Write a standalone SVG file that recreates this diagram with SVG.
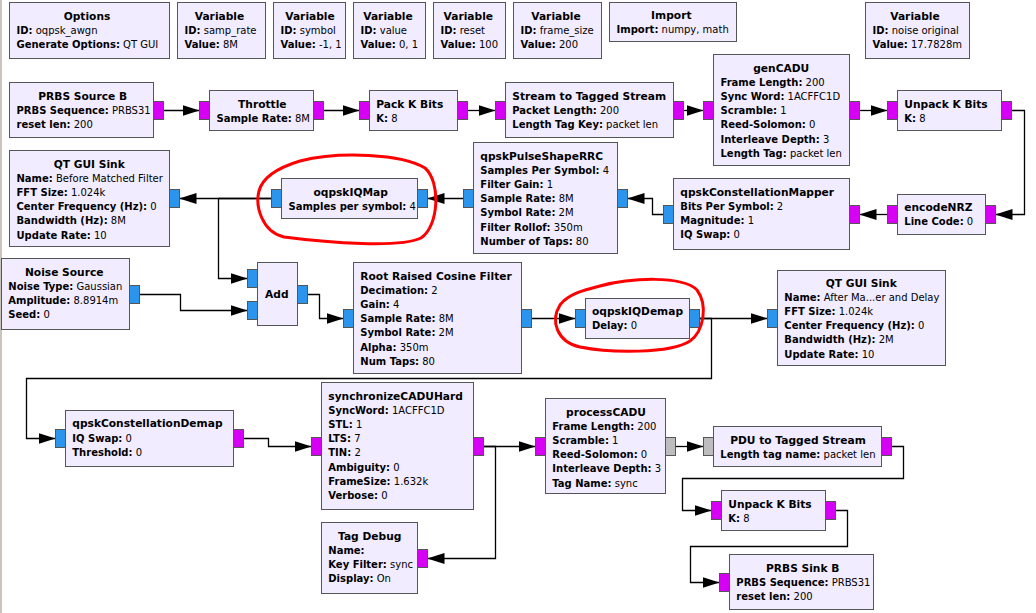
<svg xmlns="http://www.w3.org/2000/svg" width="1036" height="613" viewBox="0 0 1036 613">
<style>
text{font-family:"DejaVu Sans","Liberation Sans",sans-serif;fill:#000}
.t{font-size:10.67px;font-weight:bold}
.tc{font-size:10.67px;font-weight:bold;text-anchor:middle}
.p{font-size:10px}
.k{font-weight:bold}
.box{fill:#F1ECFF;stroke:#555;stroke-width:1}
.pm{fill:#D600F5;stroke:#555;stroke-width:1}
.pb{fill:#2B95EE;stroke:#555;stroke-width:1}
.pg{fill:#BDBDBD;stroke:#555;stroke-width:1}
.c{fill:none;stroke:#000;stroke-width:1.3;marker-end:url(#ah)}
.red{fill:none;stroke:#F00;stroke-width:3;stroke-linejoin:round}
</style>
<defs>
<marker id="ah" markerUnits="userSpaceOnUse" markerWidth="17" markerHeight="11" refX="17" refY="5.5" orient="auto">
<path d="M0,0 L17,5.5 L0,11 Z" fill="#000"/>
</marker>
</defs>
<rect x="0" y="0" width="1036" height="613" fill="#FFFFFF"/>
<rect x="0" y="0" width="2" height="613" fill="#C9C5BD"/>

<g id="connectors">
<path class="c" d="M163.5,110.5 H199.5"/>
<path class="c" d="M323.5,110.5 H359.5"/>
<path class="c" d="M467.5,110.5 H495.5"/>
<path class="c" d="M683.5,110.5 H703.5"/>
<path class="c" d="M859.5,110.5 H887.5"/>
<path class="c" d="M1011.5,110.5 H1024.5 V214.5 H995.5"/>
<path class="c" d="M887.5,214.5 H859.5"/>
<path class="c" d="M663.5,214.5 H652.5 V198.5 H627.5"/>
<path class="c" d="M463.5,198.5 H427.5"/>
<path class="c" d="M271.5,198.5 H179.5"/>
<path class="c" d="M271.5,198.5 H218.5 V278.5 H247.5"/>
<path class="c" d="M139.5,294.5 H180.5 V310.5 H247.5"/>
<path class="c" d="M307.5,294.5 H319.5 V318.5 H343.5"/>
<path class="c" d="M531.5,318.5 H575.5"/>
<path class="c" d="M699.5,318.5 H767.5"/>
<path class="c" d="M699.5,318.5 H711.5 V378.5 H26.5 V438.5 H55.5"/>
<path class="c" d="M243.5,438.5 H268.5 V446.5 H311.5"/>
<path class="c" d="M483.5,446.5 H535.5"/>
<path class="c" d="M483.5,446.5 H495.5 V558.5 H427.5"/>
<path class="c" d="M675.5,446.5 H703.5"/>
<path class="c" d="M891.5,446.5 H903.5 V478.5 H682.5 V510.5 H711.5"/>
<path class="c" d="M835.5,510.5 H847.5 V546.5 H690.5 V582.5 H719.5"/>
</g>

<g id="options">
<rect class="box" x="9.5" y="2.5" width="160" height="56"/>
<text class="tc" x="87" y="19.5">Options</text>
<text class="p" x="16.5" y="33.7"><tspan class="k">ID:</tspan> oqpsk_awgn</text>
<text class="p" x="16.5" y="47.9"><tspan class="k">Generate Options:</tspan> QT GUI</text>
</g>
<g id="var_samp_rate">
<rect class="box" x="177.5" y="2.5" width="88" height="56"/>
<text class="tc" x="219.5" y="19.5">Variable</text>
<text class="p" x="184.5" y="33.7"><tspan class="k">ID:</tspan> samp_rate</text>
<text class="p" x="184.5" y="47.9"><tspan class="k">Value:</tspan> 8M</text>
</g>
<g id="var_symbol">
<rect class="box" x="273.5" y="2.5" width="72" height="56"/>
<text class="tc" x="310" y="19.5">Variable</text>
<text class="p" x="280.5" y="33.7"><tspan class="k">ID:</tspan> symbol</text>
<text class="p" x="280.5" y="47.9"><tspan class="k">Value:</tspan> -1, 1</text>
</g>
<g id="var_value">
<rect class="box" x="353.5" y="2.5" width="72" height="56"/>
<text class="tc" x="388" y="19.5">Variable</text>
<text class="p" x="360.5" y="33.7"><tspan class="k">ID:</tspan> value</text>
<text class="p" x="360.5" y="47.9"><tspan class="k">Value:</tspan> 0, 1</text>
</g>
<g id="var_reset">
<rect class="box" x="433.5" y="2.5" width="72" height="56"/>
<text class="tc" x="468.3" y="19.5">Variable</text>
<text class="p" x="440.5" y="33.7"><tspan class="k">ID:</tspan> reset</text>
<text class="p" x="440.5" y="47.9"><tspan class="k">Value:</tspan> 100</text>
</g>
<g id="var_frame_size">
<rect class="box" x="513.5" y="2.5" width="88" height="56"/>
<text class="tc" x="556" y="19.5">Variable</text>
<text class="p" x="520.5" y="33.7"><tspan class="k">ID:</tspan> frame_size</text>
<text class="p" x="520.5" y="47.9"><tspan class="k">Value:</tspan> 200</text>
</g>
<g id="import">
<rect class="box" x="609.5" y="2.5" width="127" height="39"/>
<text class="tc" x="671.3" y="19">Import</text>
<text class="p" x="616.5" y="33.2"><tspan class="k">Import:</tspan> numpy, math</text>
</g>
<g id="var_noise_original">
<rect class="box" x="865.5" y="2.5" width="104" height="56"/>
<text class="tc" x="915" y="19.5">Variable</text>
<text class="p" x="872.5" y="33.7"><tspan class="k">ID:</tspan> noise original</text>
<text class="p" x="872.5" y="47.9"><tspan class="k">Value:</tspan> 17.7828m</text>
</g>

<g id="prbs_source">
<rect class="box" x="9.5" y="82.5" width="144" height="55"/>
<rect class="pm" x="153.5" y="101.5" width="10" height="18"/>
<text class="tc" x="82.7" y="99.5">PRBS Source B</text>
<text class="p" x="16.5" y="113.7"><tspan class="k">PRBS Sequence:</tspan> PRBS31</text>
<text class="p" x="16.5" y="127.9"><tspan class="k">reset len:</tspan> 200</text>
</g>
<g id="throttle">
<rect class="box" x="209.5" y="90.5" width="104" height="40"/>
<rect class="pm" x="199.5" y="101.5" width="10" height="18"/>
<rect class="pm" x="313.5" y="101.5" width="10" height="18"/>
<text class="tc" x="262.3" y="107.5">Throttle</text>
<text class="p" x="216.5" y="121.7"><tspan class="k">Sample Rate:</tspan> 8M</text>
</g>
<g id="pack_k_bits">
<rect class="box" x="369.5" y="90.5" width="88" height="40"/>
<rect class="pm" x="359.5" y="101.5" width="10" height="18"/>
<rect class="pm" x="457.5" y="101.5" width="10" height="18"/>
<text class="t" x="376.3" y="107.5">Pack K Bits</text>
<text class="p" x="376.3" y="121.7"><tspan class="k">K:</tspan> 8</text>
</g>
<g id="stream_to_tagged_stream">
<rect class="box" x="505.5" y="82.5" width="168" height="55"/>
<rect class="pm" x="495.5" y="101.5" width="10" height="18"/>
<rect class="pm" x="673.5" y="101.5" width="10" height="18"/>
<text class="t" x="512.3" y="99.5">Stream to Tagged Stream</text>
<text class="p" x="512.3" y="113.7"><tspan class="k">Packet Length:</tspan> 200</text>
<text class="p" x="512.3" y="127.9"><tspan class="k">Length Tag Key:</tspan> packet len</text>
</g>
<g id="gencadu">
<rect class="box" x="713.5" y="54.5" width="136" height="111"/>
<rect class="pm" x="703.5" y="101.5" width="10" height="18"/>
<rect class="pm" x="849.5" y="101.5" width="10" height="18"/>
<text class="tc" x="781.2" y="71.5">genCADU</text>
<text class="p" x="720.5" y="85.7"><tspan class="k">Frame Length:</tspan> 200</text>
<text class="p" x="720.5" y="99.9"><tspan class="k">Sync Word:</tspan> 1ACFFC1D</text>
<text class="p" x="720.5" y="114.1"><tspan class="k">Scramble:</tspan> 1</text>
<text class="p" x="720.5" y="128.3"><tspan class="k">Reed-Solomon:</tspan> 0</text>
<text class="p" x="720.5" y="142.5"><tspan class="k">Interleave Depth:</tspan> 3</text>
<text class="p" x="720.5" y="156.7"><tspan class="k">Length Tag:</tspan> packet len</text>
</g>
<g id="unpack_k_bits_1">
<rect class="box" x="897.5" y="90.5" width="104" height="40"/>
<rect class="pm" x="887.5" y="101.5" width="10" height="18"/>
<rect class="pm" x="1001.5" y="101.5" width="10" height="18"/>
<text class="t" x="904.3" y="107.5">Unpack K Bits</text>
<text class="p" x="904.3" y="121.7"><tspan class="k">K:</tspan> 8</text>
</g>

<g id="qt_gui_sink_before">
<rect class="box" x="9.5" y="150.5" width="160" height="96"/>
<rect class="pb" x="169.5" y="189.5" width="10" height="18"/>
<text class="tc" x="89.2" y="167.5">QT GUI Sink</text>
<text class="p" x="16.5" y="181.7"><tspan class="k">Name:</tspan> Before Matched Filter</text>
<text class="p" x="16.5" y="195.9"><tspan class="k">FFT Size:</tspan> 1.024k</text>
<text class="p" x="16.5" y="210.1"><tspan class="k">Center Frequency (Hz):</tspan> 0</text>
<text class="p" x="16.5" y="224.3"><tspan class="k">Bandwidth (Hz):</tspan> 8M</text>
<text class="p" x="16.5" y="238.5"><tspan class="k">Update Rate:</tspan> 10</text>
</g>
<g id="oqpskiqmap">
<rect class="box" x="281.5" y="178.5" width="136" height="40"/>
<rect class="pb" x="271.5" y="189.5" width="10" height="18"/>
<rect class="pb" x="417.5" y="189.5" width="10" height="18"/>
<text class="tc" x="350.7" y="195.5">oqpskIQMap</text>
<text class="p" x="288.5" y="209.7"><tspan class="k">Samples per symbol:</tspan> 4</text>
</g>
<g id="qpskpulseshaperrc">
<rect class="box" x="473.5" y="142.5" width="144" height="111"/>
<rect class="pb" x="463.5" y="189.5" width="10" height="18"/>
<rect class="pb" x="617.5" y="189.5" width="10" height="18"/>
<text class="t" x="480.3" y="159.5">qpskPulseShapeRRC</text>
<text class="p" x="480.3" y="173.7"><tspan class="k">Samples Per Symbol:</tspan> 4</text>
<text class="p" x="480.3" y="187.9"><tspan class="k">Filter Gain:</tspan> 1</text>
<text class="p" x="480.3" y="202.1"><tspan class="k">Sample Rate:</tspan> 8M</text>
<text class="p" x="480.3" y="216.3"><tspan class="k">Symbol Rate:</tspan> 2M</text>
<text class="p" x="480.3" y="230.5"><tspan class="k">Filter Rollof:</tspan> 350m</text>
<text class="p" x="480.3" y="244.7"><tspan class="k">Number of Taps:</tspan> 80</text>
</g>
<g id="qpskconstellationmapper">
<rect class="box" x="673.5" y="178.5" width="176" height="71"/>
<rect class="pb" x="663.5" y="205.5" width="10" height="18"/>
<rect class="pm" x="849.5" y="205.5" width="10" height="18"/>
<text class="t" x="680.3" y="195.5">qpskConstellationMapper</text>
<text class="p" x="680.3" y="209.7"><tspan class="k">Bits Per Symbol:</tspan> 2</text>
<text class="p" x="680.3" y="223.9"><tspan class="k">Magnitude:</tspan> 1</text>
<text class="p" x="680.3" y="238.1"><tspan class="k">IQ Swap:</tspan> 0</text>
</g>
<g id="encodenrz">
<rect class="box" x="897.5" y="194.5" width="88" height="40"/>
<rect class="pm" x="887.5" y="205.5" width="10" height="18"/>
<rect class="pm" x="985.5" y="205.5" width="10" height="18"/>
<text class="t" x="904.3" y="211">encodeNRZ</text>
<text class="p" x="904.3" y="225.2"><tspan class="k">Line Code:</tspan> 0</text>
</g>

<g id="noise_source">
<rect class="box" x="1.5" y="258.5" width="128" height="71"/>
<rect class="pb" x="129.5" y="285.5" width="10" height="18"/>
<text class="tc" x="64.2" y="275.8">Noise Source</text>
<text class="p" x="8.3" y="290"><tspan class="k">Noise Type:</tspan> Gaussian</text>
<text class="p" x="8.3" y="304.2"><tspan class="k">Amplitude:</tspan> 8.8914m</text>
<text class="p" x="8.3" y="318.4"><tspan class="k">Seed:</tspan> 0</text>
</g>
<g id="add">
<rect class="box" x="257.5" y="262.5" width="40" height="63"/>
<rect class="pb" x="247.5" y="269.5" width="10" height="18"/>
<rect class="pb" x="247.5" y="301.5" width="10" height="18"/>
<rect class="pb" x="297.5" y="285.5" width="10" height="18"/>
<text class="tc" x="276.8" y="297.8">Add</text>
</g>
<g id="root_raised_cosine_filter">
<rect class="box" x="353.5" y="262.5" width="168" height="111"/>
<rect class="pb" x="343.5" y="309.5" width="10" height="18"/>
<rect class="pb" x="521.5" y="309.5" width="10" height="18"/>
<text class="t" x="360.3" y="279.5">Root Raised Cosine Filter</text>
<text class="p" x="360.3" y="293.7"><tspan class="k">Decimation:</tspan> 2</text>
<text class="p" x="360.3" y="307.9"><tspan class="k">Gain:</tspan> 4</text>
<text class="p" x="360.3" y="322.1"><tspan class="k">Sample Rate:</tspan> 8M</text>
<text class="p" x="360.3" y="336.3"><tspan class="k">Symbol Rate:</tspan> 2M</text>
<text class="p" x="360.3" y="350.5"><tspan class="k">Alpha:</tspan> 350m</text>
<text class="p" x="360.3" y="364.7"><tspan class="k">Num Taps:</tspan> 80</text>
</g>
<g id="oqpskiqdemap">
<rect class="box" x="585.5" y="298.5" width="104" height="40"/>
<rect class="pb" x="575.5" y="309.5" width="10" height="18"/>
<rect class="pb" x="689.5" y="309.5" width="10" height="18"/>
<text class="t" x="592" y="315">oqpskIQDemap</text>
<text class="p" x="592" y="329.2"><tspan class="k">Delay:</tspan> 0</text>
</g>
<g id="qt_gui_sink_after">
<rect class="box" x="777.5" y="270.5" width="168" height="95"/>
<rect class="pb" x="767.5" y="309.5" width="10" height="18"/>
<text class="tc" x="861.2" y="286.5">QT GUI Sink</text>
<text class="p" x="784.3" y="300.7"><tspan class="k">Name:</tspan> After Ma...er and Delay</text>
<text class="p" x="784.3" y="314.9"><tspan class="k">FFT Size:</tspan> 1.024k</text>
<text class="p" x="784.3" y="329.1"><tspan class="k">Center Frequency (Hz):</tspan> 0</text>
<text class="p" x="784.3" y="343.3"><tspan class="k">Bandwidth (Hz):</tspan> 2M</text>
<text class="p" x="784.3" y="357.5"><tspan class="k">Update Rate:</tspan> 10</text>
</g>

<g id="qpskconstellationdemap">
<rect class="box" x="65.5" y="410.5" width="168" height="56"/>
<rect class="pb" x="55.5" y="429.5" width="10" height="18"/>
<rect class="pm" x="233.5" y="429.5" width="10" height="18"/>
<text class="t" x="72.3" y="427.3">qpskConstellationDemap</text>
<text class="p" x="72.3" y="441.5"><tspan class="k">IQ Swap:</tspan> 0</text>
<text class="p" x="72.3" y="455.7"><tspan class="k">Threshold:</tspan> 0</text>
</g>
<g id="synchronizecaduhard">
<rect class="box" x="321.5" y="382.5" width="152" height="127"/>
<rect class="pm" x="311.5" y="437.5" width="10" height="18"/>
<rect class="pm" x="473.5" y="437.5" width="10" height="18"/>
<text class="t" x="328.3" y="399.5">synchronizeCADUHard</text>
<text class="p" x="328.3" y="413.7"><tspan class="k">SyncWord:</tspan> 1ACFFC1D</text>
<text class="p" x="328.3" y="427.9"><tspan class="k">STL:</tspan> 1</text>
<text class="p" x="328.3" y="442.1"><tspan class="k">LTS:</tspan> 7</text>
<text class="p" x="328.3" y="456.3"><tspan class="k">TIN:</tspan> 2</text>
<text class="p" x="328.3" y="470.5"><tspan class="k">Ambiguity:</tspan> 0</text>
<text class="p" x="328.3" y="484.7"><tspan class="k">FrameSize:</tspan> 1.632k</text>
<text class="p" x="328.3" y="498.9"><tspan class="k">Verbose:</tspan> 0</text>
</g>
<g id="processcadu">
<rect class="box" x="545.5" y="398.5" width="120" height="95"/>
<rect class="pm" x="535.5" y="437.5" width="10" height="18"/>
<rect class="pg" x="665.5" y="437.5" width="10" height="18"/>
<text class="tc" x="606" y="415.5">processCADU</text>
<text class="p" x="552.3" y="429.7"><tspan class="k">Frame Length:</tspan> 200</text>
<text class="p" x="552.3" y="443.9"><tspan class="k">Scramble:</tspan> 1</text>
<text class="p" x="552.3" y="458.1"><tspan class="k">Reed-Solomon:</tspan> 0</text>
<text class="p" x="552.3" y="472.3"><tspan class="k">Interleave Depth:</tspan> 3</text>
<text class="p" x="552.3" y="486.5"><tspan class="k">Tag Name:</tspan> sync</text>
</g>
<g id="pdu_to_tagged_stream">
<rect class="box" x="713.5" y="426.5" width="168" height="40"/>
<rect class="pg" x="703.5" y="437.5" width="10" height="18"/>
<rect class="pm" x="881.5" y="437.5" width="10" height="18"/>
<text class="tc" x="798" y="443.5">PDU to Tagged Stream</text>
<text class="p" x="720.3" y="457.7"><tspan class="k">Length tag name:</tspan> packet len</text>
</g>
<g id="unpack_k_bits_2">
<rect class="box" x="721.5" y="490.5" width="104" height="40"/>
<rect class="pm" x="711.5" y="501.5" width="10" height="18"/>
<rect class="pm" x="825.5" y="501.5" width="10" height="18"/>
<text class="t" x="728.3" y="507.5">Unpack K Bits</text>
<text class="p" x="728.3" y="521.7"><tspan class="k">K:</tspan> 8</text>
</g>
<g id="prbs_sink">
<rect class="box" x="729.5" y="554.5" width="144" height="55"/>
<rect class="pm" x="719.5" y="573.5" width="10" height="18"/>
<text class="tc" x="802.7" y="571.5">PRBS Sink B</text>
<text class="p" x="736.3" y="585.7"><tspan class="k">PRBS Sequence:</tspan> PRBS31</text>
<text class="p" x="736.3" y="599.9"><tspan class="k">reset len:</tspan> 200</text>
</g>
<g id="tag_debug">
<rect class="box" x="321.5" y="522.5" width="96" height="71"/>
<rect class="pm" x="417.5" y="549.5" width="10" height="18"/>
<text class="tc" x="369.7" y="539.5">Tag Debug</text>
<text class="p" x="328.3" y="553.7"><tspan class="k">Name:</tspan></text>
<text class="p" x="328.3" y="567.9"><tspan class="k">Key Filter:</tspan> sync</text>
<text class="p" x="328.3" y="582.1"><tspan class="k">Display:</tspan> On</text>
</g>

<g id="highlights">
<path class="red" d="M300,161 C340,151 402,154 425,168 C441,182 439,226 421,238 C400,248 330,243 284,237 C262,232 255,206 259,191 C263,176 280,167 300,161 Z"/>
<path class="red" d="M600,286 C630,278 682,275 697,290 C708,305 704,331 690,341 C670,354 610,353 580,347 C557,342 550,321 560,305 C568,294 584,290 600,286 Z"/>
</g>
</svg>
